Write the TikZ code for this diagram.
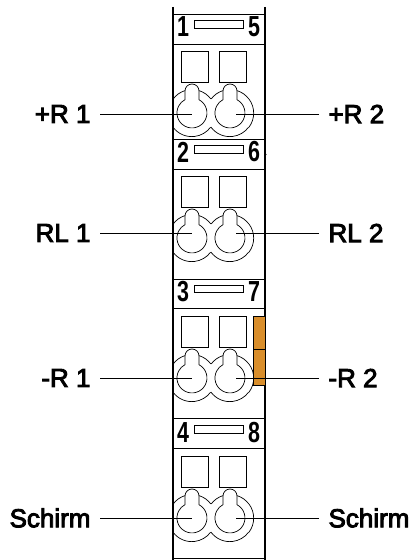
\documentclass[tikz,border=0pt]{standalone}
\usepackage{fontspec}
\setmainfont{Liberation Sans}
\newfontfamily\signalfont[FakeBold=3.5]{Liberation Sans}
\newfontfamily\digitfont[FakeStretch=0.74]{Liberation Sans}
\definecolor{contactorange}{HTML}{D98E2B}
\tikzset{
    part/.style={line width=0.7pt},
    wire/.style={line width=0.8pt},
    contact/.style={draw, fill=contactorange, line width=0.6pt},
    signal/.style={font=\signalfont\fontsize{26}{26}\selectfont, inner sep=0pt, outer xsep=9.5pt},
    digit/.style={font=\digitfont\bfseries\fontsize{29}{29}\selectfont, inner sep=0pt},
    slot/.style={draw, line width=0.8pt, inner sep=0pt, minimum width=49pt, minimum height=7.5pt},
    keyhole/.pic={
        \draw[part] (-11,31) rectangle (16,62);
        \draw[part] (7,13.3) arc[start angle=62, end angle=-242, radius=15]
            -- (-7,22) arc[start angle=180, end angle=0, radius=7] -- cycle;
        \draw[part] (-7,22.4) arc[start angle=107.3, end angle=142.8, radius=23.5];
        \draw[part] (7,22.4) arc[start angle=72.7, end angle=37.2, radius=23.5];
        \draw[part] (-19,-14.2) arc[start angle=216.8, end angle=323.2, radius=23.5];
    },
    keyholeside/.pic={
        \draw[part] (19,-14.2) arc[start angle=-36.8, end angle=36.8, radius=23.5];
    },
}
\begin{document}
\begin{tikzpicture}[x=1pt,y=1pt]
    \useasboundingbox (0,0) rectangle (411,560);

    % Define the housing
    \draw[part, line width=1.1pt] (173,553) -- (173,0);
    \draw[part, line width=1.1pt] (265,553) -- (265,0);
    \draw[part, line width=0.9pt] (173,546) -- (265,546);
    \draw[part, line width=0.9pt] (173,516) -- (265,516);
    \draw[part, line width=0.9pt] (173,421) -- (265,421);
    \draw[part, line width=0.9pt] (173,391) -- (265,391);
    \draw[part, line width=0.9pt] (173,281) -- (265,281);
    \draw[part, line width=0.9pt] (173,252) -- (265,252);
    \draw[part, line width=0.9pt] (173,142) -- (265,142);
    \draw[part, line width=0.9pt] (173,112) -- (265,112);
    \draw[part, line width=0.9pt] (173,2) -- (265,2);

    % Define the orange contacts
    \node[contact, minimum width=12pt, minimum height=33pt, inner sep=0pt] (contactA) at (259,227.5) {};
    \node[contact, minimum width=12pt, minimum height=36pt, inner sep=0pt] (contactB) at (259,193) {};

    % Define the numbered headers
    \node[digit] (d1) at (183,533) {1};
    \node[slot] (slotA) at (218.5,535.5) {};
    \node[digit] (d5) at (254,533) {5};

    \node[digit] (d2) at (183,408) {2};
    \node[slot] (slotB) at (218.5,410.5) {};
    \node[digit] (d6) at (254,408) {6};

    \node[digit] (d3) at (183,268) {3};
    \node[slot] (slotC) at (218.5,271) {};
    \node[digit] (d7) at (254,268) {7};

    \node[digit] (d4) at (183,127.5) {4};
    \node[slot] (slotD) at (218.5,130.5) {};
    \node[digit] (d8) at (254,127.5) {8};

    \fill (266,405.5) circle (0.6);

    % Define the terminals
    \pic at (192,447) {keyhole};
    \pic at (230,447) {keyhole};
    \pic at (230,447) {keyholeside};

    \pic at (192,322) {keyhole};
    \pic at (230,322) {keyhole};
    \pic at (230,322) {keyholeside};

    \pic at (192,182) {keyhole};
    \pic at (230,182) {keyhole};
    \pic at (230,182) {keyholeside};

    \pic at (192,42) {keyhole};
    \pic at (230,42) {keyhole};
    \pic at (230,42) {keyholeside};

    % Define the labels
    \node[signal, anchor=east] (plusA) at (100,446) {+R 1};
    \coordinate (endPlusA) at (192,446);
    \node[signal, anchor=west] (plusB) at (319,446) {+R 2};
    \coordinate (endPlusB) at (236,446);

    \node[signal, anchor=east] (returnA) at (100,327) {RL 1};
    \coordinate (endReturnA) at (192,327);
    \node[signal, anchor=west] (returnB) at (319,327) {RL 2};
    \coordinate (endReturnB) at (236,327);

    \node[signal, anchor=east] (minusA) at (100,182) {-R 1};
    \coordinate (endMinusA) at (192,182);
    \node[signal, anchor=west] (minusB) at (319,182) {-R 2};
    \coordinate (endMinusB) at (236,182);

    \node[signal, anchor=east] (shieldA) at (100,42) {Schirm};
    \coordinate (endShieldA) at (192,42);
    \node[signal, anchor=west] (shieldB) at (319,42) {Schirm};
    \coordinate (endShieldB) at (236,42);

    % Define the wires
    \draw[wire] (plusA) -- (endPlusA);
    \draw[wire] (plusB) -- (endPlusB);
    \draw[wire] (returnA) -- (endReturnA);
    \draw[wire] (returnB) -- (endReturnB);
    \draw[wire] (minusA) -- (endMinusA);
    \draw[wire] (minusB) -- (endMinusB);
    \draw[wire] (shieldA) -- (endShieldA);
    \draw[wire] (shieldB) -- (endShieldB);

\end{tikzpicture}
\end{document}
